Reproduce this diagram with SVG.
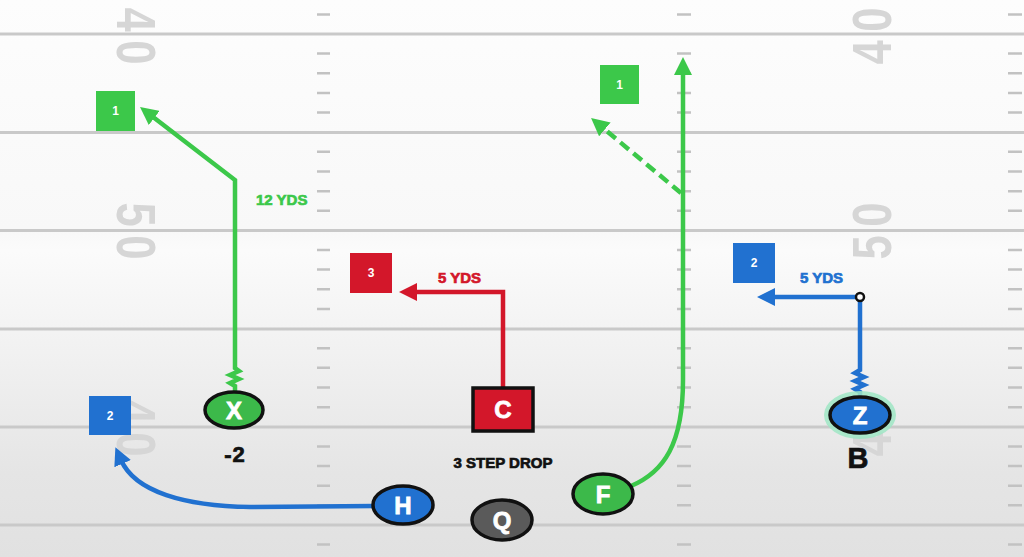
<svg xmlns="http://www.w3.org/2000/svg" width="1024" height="557" viewBox="0 0 1024 557">
<defs>
<linearGradient id="bg" x1="0" y1="0" x2="0" y2="1">
<stop offset="0" stop-color="#fdfdfd"/>
<stop offset="0.41" stop-color="#f8f8f8"/>
<stop offset="0.45" stop-color="#fbfbfb"/>
<stop offset="0.85" stop-color="#e5e5e5"/>
<stop offset="1" stop-color="#e1e1e1"/>
</linearGradient>
<marker id="ag" markerUnits="userSpaceOnUse" markerWidth="18" markerHeight="18" refX="4" refY="9" orient="auto"><path d="M0,0 L18,9 L0,18 z" fill="#3cc84a"/></marker>
<marker id="ar" markerUnits="userSpaceOnUse" markerWidth="18" markerHeight="18" refX="4" refY="9" orient="auto"><path d="M0,0 L18,9 L0,18 z" fill="#d3172a"/></marker>
<marker id="ab" markerUnits="userSpaceOnUse" markerWidth="18" markerHeight="18" refX="4" refY="9" orient="auto"><path d="M0,0 L18,9 L0,18 z" fill="#2171d0"/></marker>
</defs>
<style>
.yl{stroke:#c9c9c9;stroke-width:3}
.hm{stroke:#c2c2c2;stroke-width:2.5}
.num{font-family:"Liberation Sans",Arial,sans-serif;font-weight:bold;font-size:56px;fill:#d6d6d6;text-anchor:middle}
.t{font-family:"Liberation Sans",Arial,sans-serif;font-weight:bold}
.hv{stroke-width:0.7;paint-order:stroke}
.nl{font-size:24px;fill:#ffffff;text-anchor:middle;stroke:#ffffff;stroke-width:0.8}
.bl{font-size:12px;fill:#ffffff;text-anchor:middle}
.pl{stroke:#111;stroke-width:3.5}
.rg{fill:none;stroke:#3cc84a;stroke-width:4.5;stroke-linejoin:miter}
.rr{fill:none;stroke:#d3172a;stroke-width:4.5}
.rb{fill:none;stroke:#2171d0;stroke-width:4.5}
</style>
<g id="field">
<rect x="0" y="0" width="1024" height="557" fill="url(#bg)"/>
<g id="yardlines">
<line class="yl" x1="0" y1="34" x2="1024" y2="34"/>
<line class="yl" x1="0" y1="132.5" x2="1024" y2="132.5"/>
<line class="yl" x1="0" y1="230.5" x2="1024" y2="230.5"/>
<line class="yl" x1="0" y1="329" x2="1024" y2="329"/>
<line class="yl" x1="0" y1="427" x2="1024" y2="427"/>
<line class="yl" x1="0" y1="525" x2="1024" y2="525"/>
</g>
<g id="hashes">
<path class="hm" d="M317,14.5h13M317,53.6h13M317,73.3h13M317,92.9h13M317,112.6h13M317,151.8h13M317,171.5h13M317,191.2h13M317,210.8h13M317,250h13M317,269.6h13M317,289.3h13M317,308.9h13M317,348.2h13M317,367.8h13M317,387.5h13M317,407.2h13M317,446.4h13M317,466h13M317,485.7h13M317,505.3h13M317,544.6h13"/>
<path class="hm" d="M677,14.5h14M677,53.6h14M677,73.3h14M677,92.9h14M677,112.6h14M677,151.8h14M677,171.5h14M677,191.2h14M677,210.8h14M677,250h14M677,269.6h14M677,289.3h14M677,308.9h14M677,348.2h14M677,367.8h14M677,387.5h14M677,407.2h14M677,446.4h14M677,466h14M677,485.7h14M677,505.3h14M677,544.6h14"/>
<path class="hm" d="M1008,14.5h14M1008,53.6h14M1008,73.3h14M1008,92.9h14M1008,112.6h14M1008,151.8h14M1008,171.5h14M1008,191.2h14M1008,210.8h14M1008,250h14M1008,269.6h14M1008,289.3h14M1008,308.9h14M1008,348.2h14M1008,367.8h14M1008,387.5h14M1008,407.2h14M1008,446.4h14M1008,466h14M1008,485.7h14M1008,505.3h14M1008,544.6h14"/>
</g>
<g id="numbers">
<text class="num" transform="translate(137,36) rotate(90) scale(0.78,1)" y="20">4<tspan dx="11">0</tspan></text>
<text class="num" transform="translate(137,231) rotate(90) scale(0.78,1)" y="20">5<tspan dx="11">0</tspan></text>
<text class="num" transform="translate(137,428) rotate(90) scale(0.78,1)" y="20">4<tspan dx="11">0</tspan></text>
<text class="num" transform="translate(871,36) rotate(-90) scale(0.78,1)" y="20">4<tspan dx="11">0</tspan></text>
<text class="num" transform="translate(871,231) rotate(-90) scale(0.78,1)" y="20">5<tspan dx="11">0</tspan></text>
<text class="num" transform="translate(871,428) rotate(-90) scale(0.78,1)" y="20">4<tspan dx="11">0</tspan></text>
</g>
</g>
<g id="connectors">
<path class="rg" d="M235,392 L235,386 l-5,-3 l9,-4 l-9,-4 l9,-4 l-4,-3 L235,180 L151.1,115.5" marker-end="url(#ag)"/>
<path class="rg" d="M631,486 C664,472 683,444 683,380 L683,71" marker-end="url(#ag)"/>
<path class="rg" d="M681,193 L601.8,126.9" stroke-width="5" stroke-dasharray="11,6" marker-end="url(#ag)"/>
<path class="rr" d="M503,388 L503,292 L413,292" marker-end="url(#ar)"/>
<path class="rb" d="M860,397 L860,392 l-5,-3 l9,-4 l-9,-4 l9,-4 l-9,-4 l5,-3 L860,297 L771,297" marker-end="url(#ab)"/>
<path class="rb" d="M374,506 L250,507 C185,506 135,492 121,460" marker-end="url(#ab)"/>
<circle cx="860" cy="297" r="4" fill="#ffffff" stroke="#111" stroke-width="2.5"/>
</g>
<g id="labels">
<text class="t hv" x="256" y="205" font-size="15" fill="#3cc84a" stroke="#3cc84a">12 YDS</text>
<text class="t hv" x="438" y="283" font-size="15" fill="#d3172a" stroke="#d3172a">5 YDS</text>
<text class="t hv" x="800" y="283" font-size="15" fill="#2171d0" stroke="#2171d0">5 YDS</text>
<text class="t hv" x="503" y="468" font-size="15" fill="#111" stroke="#111" text-anchor="middle">3 STEP DROP</text>
<text class="t hv" x="235" y="462" font-size="22" fill="#111" stroke="#111" stroke-width="1.2" text-anchor="middle" letter-spacing="1">-2</text>
<text class="t hv" x="858" y="468" font-size="29" fill="#111" stroke="#111" stroke-width="1.2" text-anchor="middle">B</text>
</g>
<g id="box-1-left"><rect x="96" y="91" width="39" height="40" fill="#3cc84a"/><text class="t bl" x="115.5" y="115">1</text></g>
<g id="box-1-right"><rect x="600" y="65" width="39" height="39" fill="#3cc84a"/><text class="t bl" x="619.5" y="89">1</text></g>
<g id="box-3"><rect x="350" y="253" width="42" height="40" fill="#d3172a"/><text class="t bl" x="371" y="277">3</text></g>
<g id="box-2-right"><rect x="733" y="243" width="42" height="40" fill="#2171d0"/><text class="t bl" x="754" y="267">2</text></g>
<g id="box-2-left"><rect x="89" y="396" width="42" height="39" fill="#2171d0"/><text class="t bl" x="110" y="420">2</text></g>
<g id="node-X"><ellipse class="pl" cx="234" cy="410" rx="29" ry="18" fill="#3cb94a"/><text class="t nl" x="234" y="418.5">X</text></g>
<g id="node-C"><rect class="pl" x="473" y="388" width="60" height="43" fill="#d3172a"/><text class="t nl" x="503" y="418">C</text></g>
<g id="node-Z"><ellipse cx="860" cy="415" rx="36" ry="24" fill="#9fe6c4" opacity="0.85"/><ellipse class="pl" cx="860" cy="415" rx="30" ry="18" fill="#2171d0"/><text class="t nl" x="860" y="423.5">Z</text></g>
<g id="node-F"><ellipse class="pl" cx="603" cy="494" rx="30" ry="20" fill="#3cb94a"/><text class="t nl" x="603" y="502.5">F</text></g>
<g id="node-H"><ellipse class="pl" cx="403" cy="505" rx="30" ry="19" fill="#2171d0"/><text class="t nl" x="403" y="513.5">H</text></g>
<g id="node-Q"><ellipse class="pl" cx="502" cy="520" rx="30" ry="20" fill="#5a5a5a"/><text class="t nl" x="502" y="528.5">Q</text></g>
</svg>
